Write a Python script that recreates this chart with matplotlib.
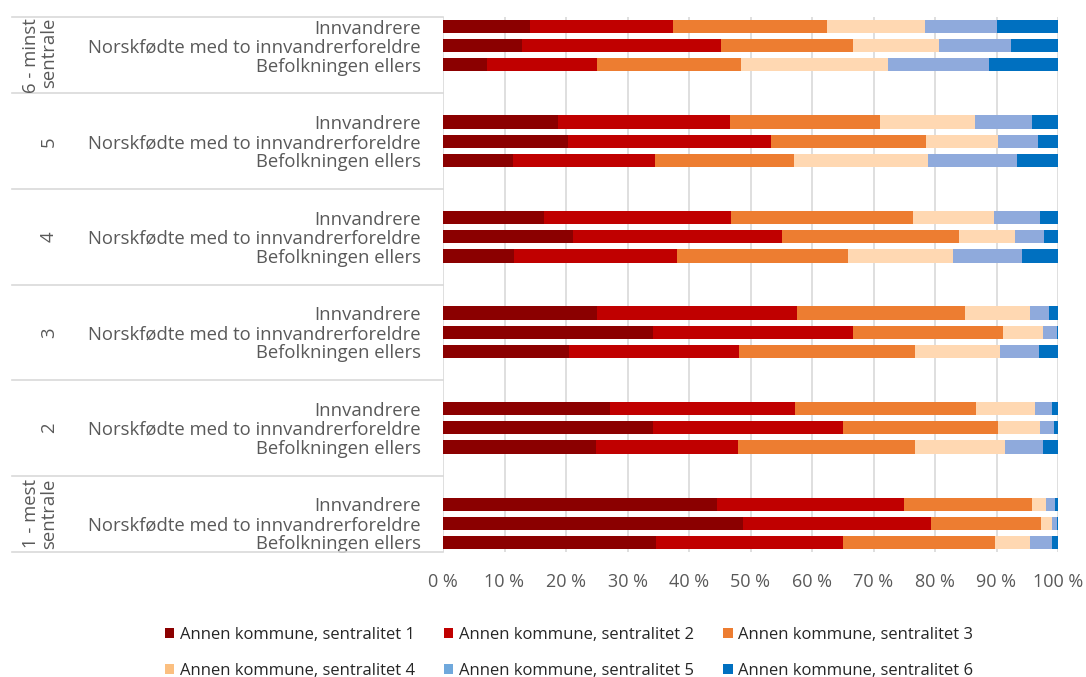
import numpy as np
import matplotlib
matplotlib.use("Agg")
import matplotlib.pyplot as plt
from matplotlib.patches import Patch
from matplotlib.ticker import FuncFormatter
import matplotlib.transforms as mtransforms

plt.rcParams["font.family"] = ["Open Sans", "DejaVu Sans"]

GROUPS = ["6 - minst\nsentrale", "5", "4", "3", "2", "1 - mest\nsentrale"]
ROWS = ["Innvandrere", "Norskfødte med to innvandrerforeldre", "Befolkningen ellers"]
SERIES = ["Annen kommune, sentralitet 1", "Annen kommune, sentralitet 2",
          "Annen kommune, sentralitet 3", "Annen kommune, sentralitet 4",
          "Annen kommune, sentralitet 5", "Annen kommune, sentralitet 6"]

# shares (%) per group (top to bottom) and row; columns = sentralitet 1..6
values = {
    "6": [[14.1, 23.3, 25.0, 16.0, 11.7, 9.9],
          [12.8, 32.4, 21.5, 14.0, 11.7, 7.6],
          [7.1, 18.0, 23.4, 23.9, 16.3, 11.3]],
    "5": [[18.7, 27.9, 24.4, 15.5, 9.2, 4.3],
          [20.4, 33.0, 25.2, 11.7, 6.4, 3.3],
          [11.4, 23.0, 22.7, 21.8, 14.4, 6.7]],
    "4": [[16.4, 30.4, 29.7, 13.1, 7.5, 2.9],
          [21.2, 34.0, 28.7, 9.1, 4.7, 2.3],
          [11.6, 26.4, 27.8, 17.2, 11.1, 5.9]],
    "3": [[25.1, 32.5, 27.3, 10.5, 3.2, 1.4],
          [34.2, 32.5, 24.3, 6.5, 2.3, 0.2],
          [20.5, 27.7, 28.5, 13.9, 6.3, 3.1]],
    "2": [[27.2, 30.0, 29.4, 9.7, 2.7, 1.0],
          [34.2, 30.9, 25.1, 6.9, 2.3, 0.6],
          [24.8, 23.2, 28.8, 14.6, 6.2, 2.4]],
    "1": [[44.5, 30.4, 20.8, 2.4, 1.4, 0.5],
          [48.8, 30.5, 18.0, 1.8, 0.8, 0.1],
          [34.7, 30.3, 24.7, 5.7, 3.7, 0.9]],
}

bar_colors = ["#8B0000", "#C00000", "#ED7D31", "#FFD8B2", "#8FAADC", "#0070C0"]
legend_colors = ["#8B0000", "#C00000", "#ED7D31", "#FBBF80", "#6FA8DC", "#0070C0"]
grey_text = "#595959"
grid_col = "#D9D9D9"

fig = plt.figure(figsize=(10.86, 6.77), dpi=100)
ax = fig.add_axes([443 / 1086, 1 - 552 / 677, 615 / 1086, 535 / 677])

data = np.array([values[k] for k in ["6", "5", "4", "3", "2", "1"]])  # (6,3,6)
ypos = []
labels = []
for g in range(len(GROUPS)):
    for j in range(len(ROWS)):
        ypos.append(g * 5 + j)
        labels.append(ROWS[j])
ypos = np.array(ypos)
flat = data.reshape(-1, 6)

left = np.zeros(len(ypos))
for s in range(6):
    ax.barh(ypos, flat[:, s], left=left, height=0.7, color=bar_colors[s],
            zorder=3, linewidth=0)
    left += flat[:, s]

ax.set_xlim(0, 100)
ax.set_ylim(27.5, -0.5)
ax.set_xticks(np.arange(0, 101, 10))
ax.xaxis.set_major_formatter(FuncFormatter(lambda v, p: f"{int(v)} %"))
ax.set_yticks(ypos)
ax.set_yticklabels(labels)
ax.tick_params(axis="y", length=0, pad=16, labelsize=13.3, labelcolor=grey_text)
ax.tick_params(axis="x", length=0, pad=15, labelsize=13, labelcolor=grey_text)
ax.grid(axis="x", color=grid_col, linewidth=1.2, zorder=0)
for sp in ax.spines.values():
    sp.set_visible(False)

# group separators and labels in the label area
trans = mtransforms.blended_transform_factory(ax.transAxes, ax.transData)
x0 = (12 - 443) / 615
seps = [-0.5] + [g * 5 + 3.5 for g in range(5)] + [27.5]
for y in seps:
    ax.plot([x0, 0], [y, y], color=grid_col, linewidth=1.2, transform=trans,
            clip_on=False)
for g, name in enumerate(GROUPS):
    yc = (seps[g] + seps[g + 1]) / 2
    ax.text((58 - 443) / 615, yc, name, transform=trans, rotation=90,
            ha="right", va="center", fontsize=13.3, color=grey_text,
            linespacing=1.0)

# legend filled row by row: 1 2 3 / 4 5 6
order = [0, 3, 1, 4, 2, 5]
handles = [Patch(facecolor=legend_colors[i], edgecolor="none") for i in order]
fig.legend(handles, [SERIES[i] for i in order], ncol=3, loc="upper left",
           bbox_to_anchor=(150 / 1086, 1 - 612 / 677), frameon=False,
           fontsize=12, handlelength=0.55, handleheight=0.6, handletextpad=0.35,
           columnspacing=1.75, labelspacing=1.2, labelcolor="#262626")

fig.savefig("out.png", dpi=100)
